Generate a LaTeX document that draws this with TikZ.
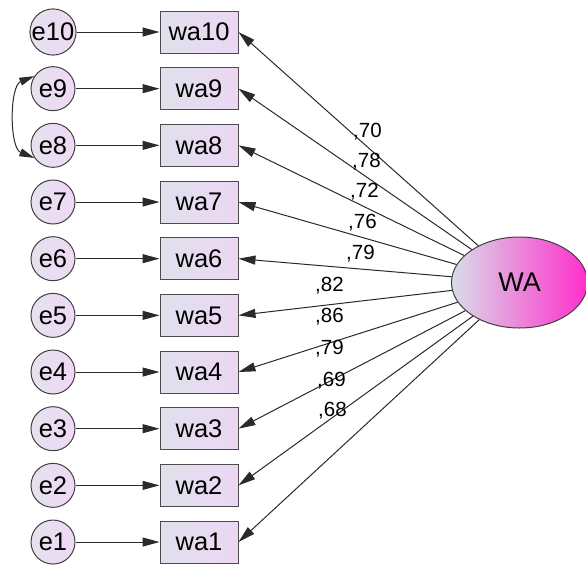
\documentclass[tikz,border=0pt]{standalone}
\usepackage{fontspec}
\setmainfont{Liberation Sans}
\usetikzlibrary{arrows.meta,shapes.geometric}
\definecolor{boxL}{HTML}{DFE1EC}
\definecolor{boxR}{HTML}{EDD6F3}
\definecolor{cirL}{HTML}{E4E2EE}
\definecolor{cirR}{HTML}{F0D8F4}
\definecolor{ellL}{HTML}{D8DDE8}
\definecolor{ellM}{HTML}{E080D8}
\definecolor{ellR}{HTML}{FF2ECC}
\definecolor{lin}{HTML}{2A2A2A}
\tikzset{
  obs/.style={draw=black!70, line width=1pt, rectangle, minimum width=78pt, minimum height=42pt, inner sep=0pt,
    left color=boxL, right color=boxR, font=\fontsize{25.5}{29}\selectfont},
  err/.style={draw=black!75, line width=1pt, circle, minimum size=44pt, inner sep=0pt,
    left color=cirL, right color=cirR, font=\fontsize{25.5}{29}\selectfont},
  lat/.style={draw=black!75, line width=1pt, ellipse, minimum width=136pt, minimum height=91pt, inner sep=0pt,
    left color=ellL, middle color=ellM, right color=ellR, font=\fontsize{27}{31}\selectfont},
  tip/.style={-{Triangle[length=17pt,width=9pt]}},
  path1/.style={draw=lin, line width=1pt, tip},
  cov/.style={draw=lin, line width=1pt, {Triangle[length=15pt,width=8pt]}-{Triangle[length=15pt,width=8pt]}},
  wt/.style={anchor=base west, inner sep=0pt, font=\fontsize{20.5}{24}\selectfont}
}
\begin{document}
\begin{tikzpicture}[x=1pt,y=-1pt]
\useasboundingbox (0,0) rectangle (586,565);
\foreach \i in {1,...,10}{
  \pgfmathsetmacro{\yy}{32+(10-\i)*56.67}
  \node[err] (e\i) at (53,\yy) {e\i};
  \node[obs] (wa\i) at (199,\yy) {wa\i};
}
\node[lat] (WA) at (519.5,282.5) {WA};
\foreach \i in {1,...,10}{
  \draw[path1] (e\i) -- (wa\i);
  \draw[path1] (WA) -- (wa\i.east);
}
\draw[cov] (e9.146) .. controls +(-25,10) and +(-25,-10) .. (e8.214);
\node[wt] (l10) at (353,137) {,70};
\node[wt] (l9) at (352,167) {,78};
\node[wt] (l8) at (350,197) {,72};
\node[wt] (l7) at (348,228) {,76};
\node[wt] (l6) at (346,259) {,79};
\node[wt] (l5) at (315,291) {,82};
\node[wt] (l4) at (315,322) {,86};
\node[wt] (l3) at (315,354) {,79};
\node[wt] (l2) at (317,386) {,69};
\node[wt] (l1) at (318,416) {,68};
\end{tikzpicture}
\end{document}
